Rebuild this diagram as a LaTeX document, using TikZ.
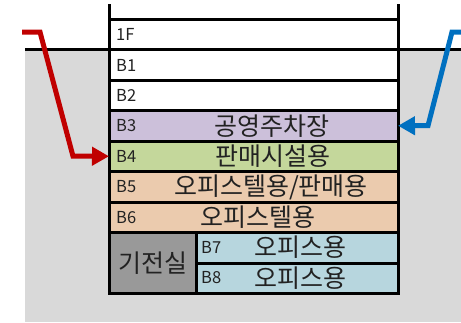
\documentclass[tikz,border=0pt]{standalone}
\usepackage{fontspec}
\setmainfont{Noto Sans CJK KR}
\usetikzlibrary{arrows.meta}
\definecolor{bggray}{HTML}{D9D9D9}
\definecolor{fpurple}{HTML}{CCC0DA}
\definecolor{fgreen}{HTML}{C4D79B}
\definecolor{fpeach}{HTML}{EBCBAE}
\definecolor{fblue}{HTML}{B7D6DE}
\definecolor{fgray}{HTML}{999999}
\definecolor{ared}{HTML}{C00000}
\definecolor{ablue}{HTML}{0070C0}
\definecolor{txt}{HTML}{222222}
\tikzset{
  floorbox/.style={draw=black, line width=3pt, anchor=north west, minimum height=30.5pt, inner sep=0pt, outer sep=0pt},
  lvl/.style={anchor=west, font=\fontsize{16.5}{16.5}\selectfont, text=txt, inner sep=0pt},
  use/.style={font=\fontsize{25}{25}\selectfont, text=txt, inner sep=0pt},
  arr/.style={line width=5pt, -{Triangle[length=17pt,width=18pt]}}
}
\begin{document}
\begin{tikzpicture}[x=1pt,y=-1pt]
\useasboundingbox (0,0) rectangle (461,322);
% ground
\fill[bggray] (25,49.5) rectangle (461,322);
\draw[line width=2.4pt] (25,49.5) -- (461,49.5);
% side walls above ground
\draw[line width=3pt] (109,4) -- (109,19);
\draw[line width=3pt] (398,4) -- (398,19);
% floors
\node[floorbox, fill=white, minimum width=289pt] (f1) at (109,19) {};
\node[floorbox, fill=white, minimum width=289pt] (b1) at (109,49.5) {};
\node[floorbox, fill=white, minimum width=289pt] (b2) at (109,80) {};
\node[floorbox, fill=fpurple, minimum width=289pt] (b3) at (109,110.5) {};
\node[floorbox, fill=fgreen, minimum width=289pt] (b4) at (109,141) {};
\node[floorbox, fill=fpeach, minimum width=289pt] (b5) at (109,171.5) {};
\node[floorbox, fill=fpeach, minimum width=289pt] (b6) at (109,202) {};
\node[floorbox, fill=fgray, minimum width=87pt, minimum height=61pt] (mech) at (109,232.5) {};
\node[floorbox, fill=fblue, minimum width=202pt] (b7) at (196,232.5) {};
\node[floorbox, fill=fblue, minimum width=202pt] (b8) at (196,263) {};
% level labels
\node[lvl] (l1) at (116,34.5) {1F};
\node[lvl] (l2) at (116,65) {B1};
\node[lvl] (l3) at (116,95.5) {B2};
\node[lvl] (l4) at (116,126) {B3};
\node[lvl] (l5) at (116,156.5) {B4};
\node[lvl] (l6) at (116,187) {B5};
\node[lvl] (l7) at (116,217.5) {B6};
\node[lvl] (l8) at (201,247.5) {B7};
\node[lvl] (l9) at (201,278) {B8};
% uses
\node[use] (u3) at (272,126) {공영주차장};
\node[use] (u4) at (272.5,156.5) {판매시설용};
\node[use] (u5) at (271,187) {오피스텔용/판매용};
\node[use] (u6) at (258,217.5) {오피스텔용};
\node[use] (u7) at (300,247.5) {오피스용};
\node[use] (u8) at (300,278) {오피스용};
\node[use] (um) at (mech.center) {기전실};
% arrows
\coordinate (rs) at (22,32);
\coordinate (bs) at (461,32);
\draw[arr, draw=ared] (rs) -- (40,32) -- (73,156.2) -- (b4.west);
\draw[arr, draw=ablue] (bs) -- (452,32) -- (428,125.7) -- (b3.east);
\end{tikzpicture}
\end{document}
